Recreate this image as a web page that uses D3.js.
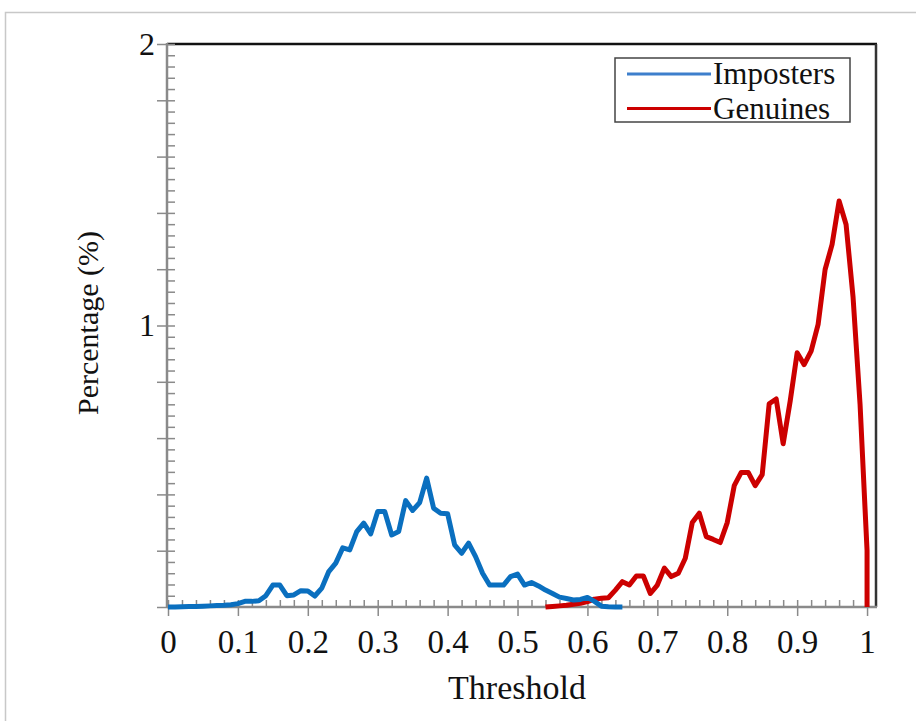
<!DOCTYPE html>
<html>
<head>
<meta charset="utf-8">
<script src="https://cdn.jsdelivr.net/npm/d3@7"></script>
<style>
  html, body { margin: 0; padding: 0; background: #fff; }
  svg { display: block; }
</style>
</head>
<body>
<svg id="chart" width="916" height="721"></svg>
<script>
// ---- data ----
const impostersX = [0.00,0.01,0.02,0.03,0.04,0.05,0.06,0.07,0.08,0.09,
  0.10,0.11,0.12,0.13,0.14,0.15,0.16,0.17,0.18,0.19,
  0.20,0.21,0.22,0.23,0.24,0.25,0.26,0.27,0.28,0.29,
  0.30,0.31,0.32,0.33,0.34,0.35,0.36,0.37,0.38,0.39,
  0.40,0.41,0.42,0.43,0.44,0.45,0.46,0.47,0.48,0.49,
  0.50,0.51,0.52,0.53,0.54,0.55,0.56,0.57,0.58,0.59,
  0.60,0.61,0.62,0.63,0.64,0.65];
const impostersY = [0.0,0.0,0.001,0.002,0.002,0.003,0.004,0.005,0.006,0.008,
  0.012,0.02,0.02,0.022,0.04,0.078,0.078,0.04,0.043,0.058,
  0.057,0.039,0.067,0.126,0.156,0.21,0.203,0.268,0.298,0.26,
  0.339,0.339,0.256,0.268,0.378,0.343,0.371,0.458,0.351,0.333,
  0.331,0.221,0.191,0.227,0.179,0.12,0.078,0.078,0.078,0.108,
  0.117,0.078,0.087,0.075,0.06,0.048,0.035,0.03,0.025,0.027,
  0.034,0.02,0.003,0.001,0.0,0.0];
const genuinesX = [0.54,0.55,0.56,0.57,0.58,0.59,
  0.60,0.61,0.62,0.63,0.64,0.65,0.66,0.67,0.68,0.69,
  0.70,0.71,0.72,0.73,0.74,0.75,0.76,0.77,0.78,0.79,
  0.80,0.81,0.82,0.83,0.84,0.85,0.86,0.87,0.88,0.89,
  0.90,0.91,0.92,0.93,0.94,0.95,0.96,0.97,0.98,0.99,
  1.00,1.00];
const genuinesY = [0.0,0.002,0.004,0.006,0.01,0.013,
  0.019,0.028,0.031,0.033,0.06,0.09,0.078,0.11,0.11,0.048,
  0.078,0.138,0.108,0.12,0.173,0.30,0.333,0.25,0.24,0.229,
  0.30,0.431,0.478,0.478,0.431,0.47,0.722,0.739,0.58,0.731,
  0.903,0.861,0.909,1.004,1.199,1.288,1.442,1.359,1.1,0.72,
  0.2,0.0];
const seriesNames = ["Imposters", "Genuines"];
const xTickLabels = [0,0.1,0.2,0.3,0.4,0.5,0.6,0.7,0.8,0.9,1];
const yTickLabels = [1,2];

// ---- layout ----
const FONT = "'Liberation Serif', 'Times New Roman', serif";
const svg = d3.select("#chart");
const L = 167, R = 876, T = 44, B = 607;
const x = d3.scaleLinear().domain([0, 1.0128]).range([L + 1, R]);
const y = d3.scaleLinear().domain([0, 2]).range([B, T]);
const axisGray = "#8a8a8a";
const blue = "#0a6fbf", red = "#cc0000";

// outer frame
svg.append("rect").attr("x", 5.5).attr("y", 12.5).attr("width", 1000).attr("height", 1000)
  .attr("fill", "none").attr("stroke", "#c8c8c8").attr("stroke-width", 1.5);

// top and right black borders
svg.append("line").attr("x1", L).attr("x2", R + 1).attr("y1", T).attr("y2", T)
  .attr("stroke", "#111").attr("stroke-width", 2.5);
svg.append("line").attr("x1", R).attr("x2", R).attr("y1", T).attr("y2", B)
  .attr("stroke", "#333").attr("stroke-width", 2.5);

// ---- y axis ----
const yMinor = d3.range(0, 2.0001, 0.04);
const yMedium = d3.range(0, 2.0001, 0.2);
const gyMinor = svg.append("g").attr("transform", `translate(${L},0)`)
  .call(d3.axisLeft(y).tickValues(yMinor).tickSize(-8).tickFormat(""));
const gyMed = svg.append("g").attr("transform", `translate(${L},0)`)
  .call(d3.axisLeft(y).tickValues(yMedium).tickSize(10).tickFormat(""));
const gyLab = svg.append("g").attr("transform", `translate(${L},0)`)
  .call(d3.axisLeft(y).tickValues(yTickLabels).tickSize(0).tickPadding(12).tickFormat(d3.format("d")));
[gyMinor, gyMed, gyLab].forEach(g => {
  g.attr("font-family", null);
  g.select(".domain").remove();
  g.selectAll("line").attr("stroke", axisGray).attr("stroke-width", 1.5);
});
gyLab.selectAll("text").style("font-family", FONT).style("font-size", "32px").attr("fill", "#111");

// ---- x axis ----
const xMinor = d3.range(0, 1.0001, 0.02);
const gxMinor = svg.append("g").attr("transform", `translate(0,${B})`)
  .call(d3.axisBottom(x).tickValues(xMinor).tickSize(-7).tickFormat(""));
const gxMaj = svg.append("g").attr("transform", `translate(0,${B})`)
  .call(d3.axisBottom(x).tickValues(xTickLabels).tickSize(9).tickPadding(14).tickFormat(d => d3.format("")(d)));
[gxMinor, gxMaj].forEach(g => {
  g.attr("font-family", null);
  g.select(".domain").remove();
  g.selectAll("line").attr("stroke", axisGray).attr("stroke-width", 1.5);
});
gxMaj.selectAll("text").style("font-family", FONT).style("font-size", "33px").attr("fill", "#111");

// axis lines
svg.append("line").attr("x1", L).attr("x2", L).attr("y1", T - 1).attr("y2", B + 1)
  .attr("stroke", axisGray).attr("stroke-width", 2.5);
svg.append("line").attr("x1", L).attr("x2", R + 1).attr("y1", B).attr("y2", B)
  .attr("stroke", axisGray).attr("stroke-width", 2.5);

// ---- lines ----
const line = d3.line().x(d => x(d[0])).y(d => y(d[1]));
const genData = genuinesX.map((v, i) => [v, genuinesY[i]]);
const impData = impostersX.map((v, i) => [v, impostersY[i]]);
svg.append("path").datum(genData).attr("d", line)
  .attr("fill", "none").attr("stroke", red).attr("stroke-width", 5)
  .attr("stroke-linejoin", "round");
svg.append("path").datum(impData).attr("d", line)
  .attr("fill", "none").attr("stroke", blue).attr("stroke-width", 5)
  .attr("stroke-linejoin", "round");

// ---- axis titles ----
svg.append("text").attr("x", 517).attr("y", 699).attr("text-anchor", "middle")
  .style("font-family", FONT).style("font-size", "34px").attr("fill", "#111").text("Threshold");
svg.append("text").attr("transform", "translate(98,323) rotate(-90)").attr("text-anchor", "middle")
  .style("font-family", FONT).style("font-size", "30px").attr("fill", "#111").text("Percentage (%)");

// ---- legend ----
const lg = svg.append("g");
lg.append("rect").attr("x", 615).attr("y", 58).attr("width", 235).attr("height", 64)
  .attr("fill", "#fff").attr("stroke", "#444").attr("stroke-width", 1.5);
const legColors = ["#3d7fcc", red];
seriesNames.forEach((name, i) => {
  const yy = 74 + i * 34.5;
  lg.append("line").attr("x1", 627).attr("x2", 711).attr("y1", yy).attr("y2", yy)
    .attr("stroke", legColors[i]).attr("stroke-width", 3);
  lg.append("text").attr("x", 713).attr("y", yy + 10)
    .style("font-family", FONT).style("font-size", "31px").attr("fill", "#111").text(name);
});
</script>
</body>
</html>
